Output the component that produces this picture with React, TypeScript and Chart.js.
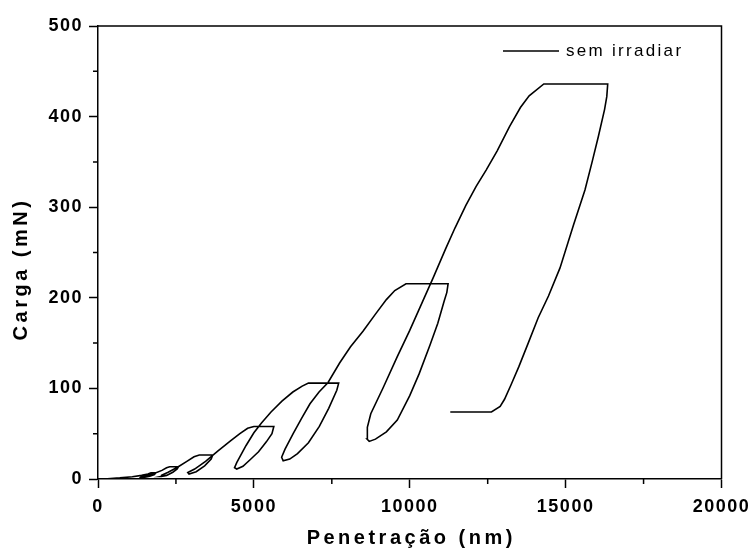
import React, { useEffect, useRef } from 'react';
import { Chart, registerables } from 'chart.js';

Chart.register(...registerables);

// Penetração (nm) along the measured path
const penetracao = [
  0, 300, 700, 1100, 1400, 1600, 1700, 1850, 1810, 1660, 1460, 1340, 1360, 1550, 1800, 2050,
  2200, 2300, 2580, 2540, 2400, 2200, 2030, 2040, 2250, 2550, 2850, 3080, 3250, 3680, 3630,
  3420, 3150, 2920, 2880, 3100, 3450, 3850, 4250, 4550, 4800, 5000, 5640, 5580, 5400, 5150,
  4870, 4650, 4450, 4380, 4450, 4750, 5000, 5250, 5550, 5900, 6250, 6550, 6750, 7720, 7660,
  7400, 7100, 6750, 6400, 6150, 5940, 5890, 6000, 6260, 6530, 6800, 7090, 7380, 7750, 8100,
  8500, 8900, 9250, 9520, 9880, 11230, 11190, 11100, 10900, 10650, 10300, 10000, 9600, 9250,
  8900, 8700, 8630, 8640, 8750, 9150, 9600, 10000, 10400, 10750, 11150, 11450, 11800, 12130,
  12450, 12800, 13200, 13550, 13830, 14300, 16350, 16320, 16250, 16050, 15850, 15620, 15250,
  14820, 14450, 14120, 13800, 13500, 13250, 13040, 12900, 12620, 11300,
];

// Carga (mN) along the same path
const carga = [
  0, 0.3, 1.2, 2.5, 4, 5.6, 6.8, 6.8, 5, 3, 1.6, 1.0, 1.8, 3.5, 6, 9.5,
  12.3, 13.5, 13.5, 11, 7.5, 4, 2.8, 4.2, 7.5, 13, 19.5, 24.5, 26.5, 26.5, 22,
  14.5, 8, 5.5, 7.2, 11, 19.5, 31, 42, 50, 56, 58, 58, 50, 41, 30,
  21, 14, 11, 12.5, 18, 37, 51, 62, 74, 86, 96, 102.5, 105.8, 105.8, 98,
  78, 58, 40, 28, 22, 20, 24, 33, 50, 67, 83, 96, 106.5, 128, 146,
  163, 182, 198, 208, 215.5, 215.5, 206, 196, 172, 148, 116, 92, 65, 52,
  44, 41.5, 44, 57, 72, 101, 135, 164, 195, 222, 254, 277, 302, 323,
  341, 362, 389, 410, 423, 436, 436, 422, 408, 378, 350, 319, 280,
  233, 202, 178, 150, 124, 104, 88, 80, 74, 74,
];

const xMinorTicks = [2500, 7500, 12500, 17500];
const yMinorTicks = [50, 150, 250, 350, 450];
const seriesLabel = 'sem irradiar';
const xTitle = 'Penetração (nm)';
const yTitle = 'Carga (mN)';

const FONT = '"Liberation Sans", Arial, Helvetica, sans-serif';

export default function App() {
  const ref = useRef<HTMLCanvasElement | null>(null);

  useEffect(() => {
    const canvas = ref.current;
    if (!canvas) return;
    const ctx = canvas.getContext('2d');
    if (!ctx) return;

    const spacingPlugin = {
      id: 'spacing',
      beforeLayout(chart: any) {
        (chart.ctx as any).letterSpacing = '1.5px';
      },
      beforeDraw(chart: any) {
        (chart.ctx as any).letterSpacing = '1.5px';
      },
    };

    const decorPlugin = {
      id: 'decor',
      afterDraw(chart: any) {
        const c = chart.ctx as CanvasRenderingContext2D;
        const a = chart.chartArea;
        const xs = chart.scales.x;
        const ys = chart.scales.y;
        c.save();
        c.strokeStyle = '#000';
        c.lineWidth = 1.5;
        // frame
        c.beginPath();
        c.moveTo(a.left, a.top);
        c.lineTo(a.right, a.top);
        c.lineTo(a.right, a.bottom);
        c.stroke();
        // minor ticks
        c.beginPath();
        xMinorTicks.forEach((v) => {
          const px = xs.getPixelForValue(v);
          c.moveTo(px, a.bottom);
          c.lineTo(px, a.bottom + 5);
        });
        yMinorTicks.forEach((v) => {
          const py = ys.getPixelForValue(v);
          c.moveTo(a.left - 5, py);
          c.lineTo(a.left, py);
        });
        c.stroke();

        // legend
        c.lineWidth = 1.6;
        c.beginPath();
        c.moveTo(503, 51);
        c.lineTo(559, 51);
        c.stroke();
        (c as any).letterSpacing = '2.3px';
        c.fillStyle = '#000';
        c.font = `17px ${FONT}`;
        c.textAlign = 'left';
        c.textBaseline = 'middle';
        c.fillText(seriesLabel, 566, 51);

        // axis titles
        (c as any).letterSpacing = '3.5px';
        c.font = `bold 20px ${FONT}`;
        c.textAlign = 'center';
        c.textBaseline = 'middle';
        c.fillText(xTitle, (a.left + a.right) / 2 + 1.5, 538);
        c.save();
        c.translate(21, (a.top + a.bottom) / 2 + 18);
        c.rotate(-Math.PI / 2);
        c.fillText(yTitle, 1.5, 0);
        c.restore();
        c.restore();
      },
    };

    const tickFont = { family: FONT, size: 18, weight: 'bold' as const };

    const chart = new Chart(ctx, {
      type: 'scatter',
      data: {
        datasets: [
          {
            label: seriesLabel,
            data: penetracao.map((x, i) => ({ x, y: carga[i] })),
            showLine: true,
            borderColor: '#000',
            backgroundColor: '#000',
            borderWidth: 1.6,
            pointRadius: 0,
            pointHoverRadius: 0,
            fill: false,
            tension: 0,
          },
        ],
      },
      options: {
        animation: false,
        responsive: false,
        maintainAspectRatio: false,
        events: [],
        layout: { padding: { top: 26, right: 28.5, left: 0, bottom: 0 } },
        plugins: {
          legend: { display: false },
          tooltip: { enabled: false },
          title: { display: false },
        },
        scales: {
          x: {
            type: 'linear',
            min: 0,
            max: 20000,
            ticks: {
              stepSize: 5000,
              color: '#000',
              font: tickFont,
              padding: 8,
              maxRotation: 0,
              autoSkip: false,
              callback: (v: any) => String(v),
            },
            grid: {
              drawOnChartArea: false,
              drawTicks: true,
              tickLength: 9,
              tickColor: '#000',
              tickWidth: 1.5,
              color: '#000',
            },
            border: { color: '#000', width: 1.5 },
            afterFit: (s: any) => {
              s.height = 74;
              s.paddingLeft = 0;
              s.paddingRight = 0;
            },
          },
          y: {
            type: 'linear',
            min: 0,
            max: 500,
            ticks: {
              stepSize: 100,
              color: '#000',
              font: tickFont,
              padding: 6,
              callback: (v: any) => String(v),
            },
            grid: {
              drawOnChartArea: false,
              drawTicks: true,
              tickLength: 9,
              tickColor: '#000',
              tickWidth: 1.5,
              color: '#000',
            },
            border: { color: '#000', width: 1.5 },
            afterFit: (s: any) => {
              s.width = 98;
              s.paddingTop = 0;
              s.paddingBottom = 0;
            },
          },
        },
      },
      plugins: [spacingPlugin, decorPlugin],
    });

    return () => {
      chart.destroy();
    };
  }, []);

  return (
    <div style={{ position: 'absolute', left: 0, top: 0, width: 750, height: 553, background: '#fff' }}>
      <canvas ref={ref} width={750} height={553} style={{ width: 750, height: 553, display: 'block' }} />
    </div>
  );
}
